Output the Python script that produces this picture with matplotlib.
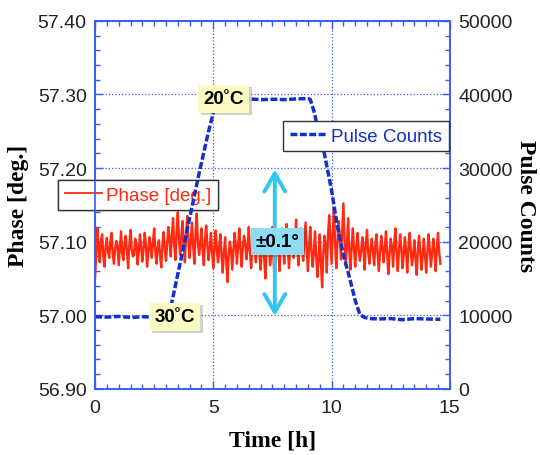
import numpy as np
import matplotlib
matplotlib.use("Agg")
import matplotlib.pyplot as plt
from matplotlib.ticker import MultipleLocator, FormatStrFormatter
import matplotlib.patheffects as pe

# ─── data ─────────────────────────────────────
# phase read every 0.1 h (0 .. 14.6 h), plus the samples halfway between them
phase_step = 0.05
phase_even = [
    57.050, 57.118, 57.072, 57.110, 57.066, 57.105, 57.078, 57.112, 57.070, 57.101,
    57.068, 57.114, 57.075, 57.108, 57.064, 57.116, 57.080, 57.104, 57.069, 57.110,
    57.073, 57.112, 57.066, 57.106, 57.078, 57.118, 57.070, 57.102, 57.065, 57.113,
    57.074, 57.120, 57.080, 57.132, 57.075, 57.140, 57.082, 57.128, 57.072, 57.135,
    57.078, 57.126, 57.070, 57.138, 57.082, 57.118, 57.068, 57.122, 57.075, 57.112,
    57.064, 57.115, 57.072, 57.110, 57.058, 57.106, 57.045, 57.100, 57.062, 57.112,
    57.070, 57.118, 57.066, 57.108, 57.076, 57.120, 57.064, 57.110, 57.072, 57.116,
    57.062, 57.114, 57.050, 57.108, 57.068, 57.120, 57.042, 57.112, 57.060, 57.118,
    57.070, 57.124, 57.064, 57.112, 57.078, 57.130, 57.068, 57.118, 57.074, 57.126,
    57.060, 57.120, 57.066, 57.114, 57.052, 57.110, 57.038, 57.108, 57.058, 57.136,
    57.070, 57.146, 57.064, 57.128, 57.076, 57.152, 57.068, 57.132, 57.062, 57.118,
    57.066, 57.112, 57.074, 57.106, 57.062, 57.116, 57.070, 57.104, 57.068, 57.110,
    57.060, 57.108, 57.072, 57.114, 57.056, 57.104, 57.066, 57.118, 57.060, 57.110,
    57.064, 57.106, 57.058, 57.112, 57.068, 57.102, 57.055, 57.108, 57.062, 57.104,
    57.058, 57.110, 57.066, 57.104, 57.060, 57.112, 57.070,
]
phase_odd = [
    57.085, 57.092, 57.101, 57.080, 57.094, 57.086, 57.099, 57.083, 57.090, 57.095,
    57.092, 57.084, 57.099, 57.087, 57.096, 57.090, 57.082, 57.098, 57.088, 57.093,
    57.089, 57.097, 57.085, 57.094, 57.100, 57.086, 57.093, 57.081, 57.097, 57.090,
    57.098, 57.104, 57.110, 57.094, 57.115, 57.101, 57.108, 57.096, 57.112, 57.099,
    57.103, 57.093, 57.110, 57.098, 57.097, 57.089, 57.102, 57.094, 57.091, 57.086,
    57.092, 57.088, 57.094, 57.080, 57.086, 57.072, 57.083, 57.090, 57.087, 57.095,
    57.096, 57.088, 57.093, 57.099, 57.091, 57.086, 57.095, 57.090, 57.097, 57.084,
    57.090, 57.078, 57.085, 57.096, 57.082, 57.074, 57.088, 57.093, 57.094, 57.092,
    57.101, 57.090, 57.094, 57.105, 57.098, 57.093, 57.104, 57.097, 57.100, 57.091,
    57.093, 57.088, 57.085, 57.080, 57.076, 57.071, 57.083, 57.094, 57.110, 57.104,
    57.112, 57.098, 57.100, 57.108, 57.115, 57.100, 57.094, 57.088, 57.093, 57.090,
    57.094, 57.088, 57.086, 57.092, 57.097, 57.085, 57.090, 57.087, 57.095, 57.082,
    57.086, 57.093, 57.090, 57.084, 57.082, 57.094, 57.097, 57.085, 57.088, 57.090,
    57.083, 57.087, 57.092, 57.088, 57.082, 57.076, 57.089, 57.085, 57.080, 57.083,
    57.085, 57.090, 57.083, 57.088, 57.091, 57.086,
]
phase = np.empty(len(phase_even) + len(phase_odd))
phase[0::2] = phase_even
phase[1::2] = phase_odd
phase_time = np.arange(len(phase)) * phase_step

count_time = [0.0, 0.5, 1.0, 1.5, 2.0, 2.5, 3.0, 3.15, 3.25, 3.6, 4.0, 4.4, 4.8,
              5.0, 5.2, 5.5, 6.0, 6.5, 7.0, 7.5, 8.0, 8.5, 9.0, 9.1, 9.25, 9.4,
              9.7, 10.0, 10.25, 10.5, 10.77, 11.0, 11.2, 11.4, 11.6, 12.0, 12.5,
              13.0, 13.5, 14.0, 14.6]
counts = [9800, 9750, 9850, 9700, 9800, 9750, 9800, 9900, 11800, 17100, 23200,
          29300, 35000, 37500, 38900, 39300, 39250, 39400, 39300, 39350, 39300,
          39400, 39450, 39300, 37800, 35700, 31900, 27000, 22000, 18200, 15000,
          12000, 10100, 9700, 9550, 9500, 9550, 9400, 9550, 9500, 9450]

RED = "#ff2a10"
BLUE = "#1530c8"
SPINE = "#3a5cf0"
CYAN = "#30c6f2"

fig = plt.figure(figsize=(5.4, 4.56), dpi=100)
ax = fig.add_axes([0.176, 0.145, 0.657, 0.807])
ax2 = ax.twinx()


def to_counts(deg):
    # the two y scales line up: 56.90..57.40 deg <-> 0..50000 counts
    return (deg - 56.90) / 0.5 * 50000


# ─── phase ────────────────────────────────────
ln1, = ax.plot(phase_time, phase, color=RED, lw=1.7, label="Phase [deg.]")
ax.set_xlim(0, 15)
ax.set_ylim(56.90, 57.40)
ax.xaxis.set_major_locator(MultipleLocator(5))
ax.xaxis.set_minor_locator(MultipleLocator(0.5))
ax.yaxis.set_major_locator(MultipleLocator(0.1))
ax.yaxis.set_minor_locator(MultipleLocator(0.02))
ax.yaxis.set_major_formatter(FormatStrFormatter("%.2f"))
ax.grid(True, which="major", color=SPINE, ls=":", lw=0.9)

# ─── pulse counts ─────────────────────────────
ln2, = ax2.plot(count_time, counts, color=BLUE, lw=2.5, dashes=(2, 0.7),
                label="Pulse Counts")
ax2.set_ylim(0, 50000)
ax2.yaxis.set_major_locator(MultipleLocator(10000))
ax2.yaxis.set_minor_locator(MultipleLocator(2000))

for a in (ax, ax2):
    for s in a.spines.values():
        s.set_color(SPINE)
        s.set_linewidth(1.2)
    a.tick_params(which="both", direction="in", color=SPINE, labelcolor="#222222",
                  labelsize=14, pad=6)
    a.tick_params(which="major", length=6, width=1)
    a.tick_params(which="minor", length=3.5, width=1)
ax.tick_params(which="both", top=True)
ax.tick_params(axis="x", pad=7)

for lab in ax.get_xticklabels() + ax.get_yticklabels() + ax2.get_yticklabels():
    lab.set_family("Liberation Sans")

ax.set_xlabel("Time [h]", family="Liberation Serif", weight="bold", fontsize=17,
              labelpad=10)
ax.set_ylabel("Phase [deg.]", family="Liberation Serif", weight="bold",
              fontsize=17, labelpad=6)
ax2.set_ylabel("Pulse Counts", family="Liberation Serif", weight="bold",
               fontsize=17, rotation=270, labelpad=17)

# ─── legends ──────────────────────────────────
leg_kw = dict(fancybox=False, edgecolor="#333333", framealpha=1,
              prop={"family": "Liberation Sans", "size": 13.5},
              handlelength=2.0, handletextpad=0.2, borderpad=0.35,
              borderaxespad=0)
leg1 = ax.legend(handles=[ln1], loc="upper left",
                 bbox_to_anchor=(-0.104, 0.568), **leg_kw)
leg2 = ax2.legend(handles=[ln2], loc="upper right",
                  bbox_to_anchor=(0.997, 0.728), **leg_kw)
for leg, c in ((leg1, RED), (leg2, BLUE)):
    leg.get_frame().set_linewidth(1.0)
    for t in leg.get_texts():
        t.set_color(c)
leg1.get_lines()[0].set_linewidth(1.3)
ax.add_artist(leg1)

# ─── annotations ──────────────────────────────
shadow = [pe.withSimplePatchShadow(offset=(1.5, -1.5), alpha=0.25)]
for x, y, s in ((5.45, 57.294, "20˚C"), (3.38, 56.998, "30˚C")):
    t = ax2.text(x, to_counts(y), s, ha="center", va="center",
                 fontsize=13.5, weight="bold", family="Liberation Sans",
                 bbox=dict(boxstyle="square,pad=0.28", fc="#fafac2", ec="none"),
                 zorder=6)
    t.get_bbox_patch().set_path_effects(shadow)

ax2.annotate("", xy=(7.6, to_counts(57.198)), xytext=(7.6, to_counts(56.999)),
             arrowprops=dict(arrowstyle="<->,head_length=1.3,head_width=0.75",
                             color=CYAN, lw=2.8, shrinkA=0, shrinkB=0),
             zorder=5)
t = ax2.text(7.7, to_counts(57.10), "±0.1°", ha="center", va="center",
             fontsize=13.5, weight="bold", family="Liberation Sans",
             bbox=dict(boxstyle="square,pad=0.25", fc="#8fdcf6", ec="none"),
             zorder=6)
t.get_bbox_patch().set_path_effects(shadow)

fig.savefig("out.png", dpi=100)
